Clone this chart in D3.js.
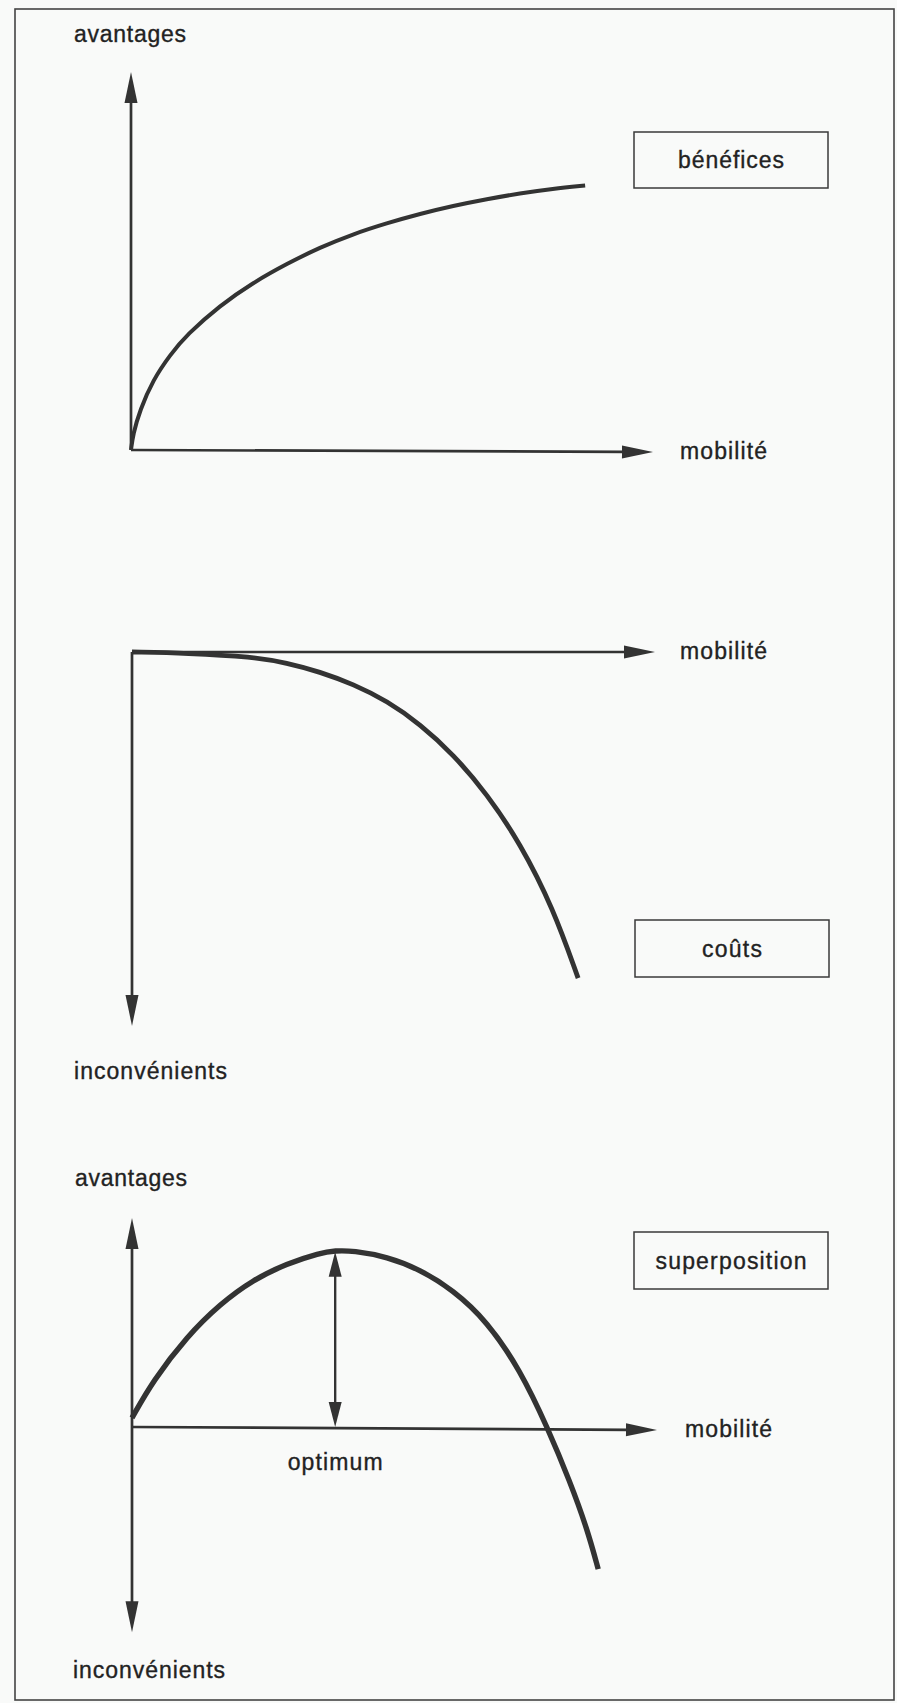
<!DOCTYPE html>
<html>
<head>
<meta charset="utf-8">
<script src="https://cdn.jsdelivr.net/npm/d3@7"></script>
<style>
  html, body { margin: 0; padding: 0; background: #f9faf9; }
  svg { display: block; }
  text { font-family: "Liberation Sans", Arial, Helvetica, sans-serif; fill: #222; stroke: #222; stroke-width: 0.35px; }
</style>
</head>
<body>
<script>
// ---- data (abstract units) ----
const benefMob = [0, 0.04, 0.17, 0.42, 0.75, 1.07, 1.70, 2.34, 2.99, 3.62, 4.25, 4.90, 5.54, 6.17, 6.82, 7.45, 8.08, 8.70];
const benefVal = [0, 0.42, 1.05, 1.85, 2.52, 3.05, 3.82, 4.43, 4.93, 5.36, 5.71, 6.00, 6.25, 6.46, 6.64, 6.79, 6.91, 7.00];

const coutMob = [0, 1.05, 2.31, 2.96, 3.59, 4.23, 4.88, 5.51, 6.14, 6.79, 7.42, 8.05, 8.53];
const coutVal = [0, -0.03, -0.13, -0.29, -0.53, -0.86, -1.31, -1.93, -2.73, -3.80, -5.11, -6.84, -8.72];

const superMob = [0, 0.40, 1.05, 1.68, 2.30, 2.95, 3.58, 3.87, 4.21, 4.86, 5.49, 6.11, 6.76, 7.39, 7.92, 8.34, 8.67, 8.88];
const superVal = [0.24, 1.22, 2.39, 3.24, 3.87, 4.30, 4.58, 4.64, 4.64, 4.48, 4.14, 3.61, 2.79, 1.51, -0.03, -1.43, -2.68, -3.74];

const optimumMob = 3.87;
const optimumVal = 4.64;

const panelTitles = ["bénéfices", "coûts", "superposition"];
const axisLabelX = "mobilité";
const axisLabelUp = "avantages";
const axisLabelDown = "inconvénients";
const optimumLabel = "optimum";

// ---- drawing ----
const W = 897, H = 1703;
const ink = "#333";
const svg = d3.select("body").append("svg").attr("width", W).attr("height", H);
svg.append("rect").attr("width", W).attr("height", H).attr("fill", "#f9faf9");
svg.append("rect").attr("x", 15).attr("y", 9).attr("width", 879).attr("height", 1691)
  .attr("fill", "none").attr("stroke", "#444").attr("stroke-width", 1.6);

function arrowHead(g, x1, y1, x2, y2, len, wid) {
  const dx = x2 - x1, dy = y2 - y1, L = Math.hypot(dx, dy);
  const ux = dx / L, uy = dy / L, px = -uy, py = ux;
  const bx = x2 - ux * len, by = y2 - uy * len;
  g.append("path")
    .attr("d", `M${x2},${y2}L${bx + px * wid / 2},${by + py * wid / 2}L${bx - px * wid / 2},${by - py * wid / 2}Z`)
    .attr("fill", ink);
}
function arrowLine(g, x1, y1, x2, y2, sw, len, wid) {
  const dx = x2 - x1, dy = y2 - y1, L = Math.hypot(dx, dy);
  g.append("line").attr("x1", x1).attr("y1", y1)
    .attr("x2", x2 - dx / L * (len - 2)).attr("y2", y2 - dy / L * (len - 2))
    .attr("stroke", ink).attr("stroke-width", sw);
  arrowHead(g, x1, y1, x2, y2, len, wid);
}
function label(g, txt, x, y, len, anchor) {
  g.append("text").attr("x", x).attr("y", y).attr("font-size", 23)
    .attr("text-anchor", anchor || "start")
    .attr("textLength", len).attr("lengthAdjust", "spacing").text(txt);
}
function box(g, txt, x, y, w, h, tlen) {
  g.append("rect").attr("x", x).attr("y", y).attr("width", w).attr("height", h)
    .attr("fill", "none").attr("stroke", "#3a3a3a").attr("stroke-width", 1.5);
  g.append("text").attr("x", x + w / 2).attr("y", y + h / 2 + 8).attr("font-size", 23)
    .attr("text-anchor", "middle").attr("textLength", tlen).attr("lengthAdjust", "spacing").text(txt);
}
const lineGen = (xs, ys) => d3.line().x(d => xs(d[0])).y(d => ys(d[1])).curve(d3.curveBasis);

// Panel 1 : bénéfices
{
  const g = svg.append("g");
  const x = d3.scaleLinear().domain([0, 10]).range([131, 653]);
  const y = d3.scaleLinear().domain([0, 10]).range([450, 72]);
  arrowLine(g, x(0), y(0), x(0), y(10), 2.7, 31, 13);
  arrowLine(g, x(0), y(0), x(10), y(0) + 2, 2.7, 31, 13);
  g.append("path").datum(d3.zip(benefMob, benefVal)).attr("d", lineGen(x, y))
    .attr("fill", "none").attr("stroke", ink).attr("stroke-width", 4);
  label(g, axisLabelUp, 74, 42, 112);
  label(g, axisLabelX, 680, 459, 87);
  box(g, panelTitles[0], 634, 132, 194, 56, 106);
}

// Panel 2 : coûts
{
  const g = svg.append("g");
  const x = d3.scaleLinear().domain([0, 10]).range([132, 655]);
  const y = d3.scaleLinear().domain([0, -10]).range([652, 1026]);
  arrowLine(g, x(0), y(0), x(10), y(0), 2.7, 31, 13);
  arrowLine(g, x(0), y(0), x(0), y(-10), 2.7, 31, 13);
  g.append("path").datum(d3.zip(coutMob, coutVal)).attr("d", lineGen(x, y))
    .attr("fill", "none").attr("stroke", ink).attr("stroke-width", 4.8);
  label(g, axisLabelX, 680, 659, 87);
  label(g, axisLabelDown, 74, 1079, 153);
  box(g, panelTitles[1], 635, 920, 194, 57, 60);
}

// Panel 3 : superposition
{
  const g = svg.append("g");
  const x = d3.scaleLinear().domain([0, 10]).range([132, 657]);
  const y = d3.scaleLinear().domain([0, 5.5]).range([1427, 1218]);
  arrowLine(g, x(0), y(0), x(0), y(5.5), 2.7, 31, 13);
  arrowLine(g, x(0), y(0), x(0), y(-5.4), 2.7, 31, 13);
  arrowLine(g, x(0), y(0), x(10), y(0) + 3, 2.7, 31, 13);
  g.append("path").datum(d3.zip(superMob, superVal)).attr("d", lineGen(x, y))
    .attr("fill", "none").attr("stroke", ink).attr("stroke-width", 5.4);
  const ox = x(optimumMob);
  g.append("line").attr("x1", ox).attr("x2", ox).attr("y1", y(optimumVal) + 20).attr("y2", y(0) - 20)
    .attr("stroke", ink).attr("stroke-width", 2.4);
  arrowHead(g, ox, y(0), ox, y(optimumVal) + 1, 25, 13);
  arrowHead(g, ox, y(optimumVal), ox, y(0), 25, 13);
  label(g, optimumLabel, ox, 1470, 95, "middle");
  label(g, axisLabelUp, 75, 1186, 112);
  label(g, axisLabelX, 685, 1437, 87);
  label(g, axisLabelDown, 73, 1678, 152);
  box(g, panelTitles[2], 634, 1232, 194, 57, 151);
}
</script>
</body>
</html>
